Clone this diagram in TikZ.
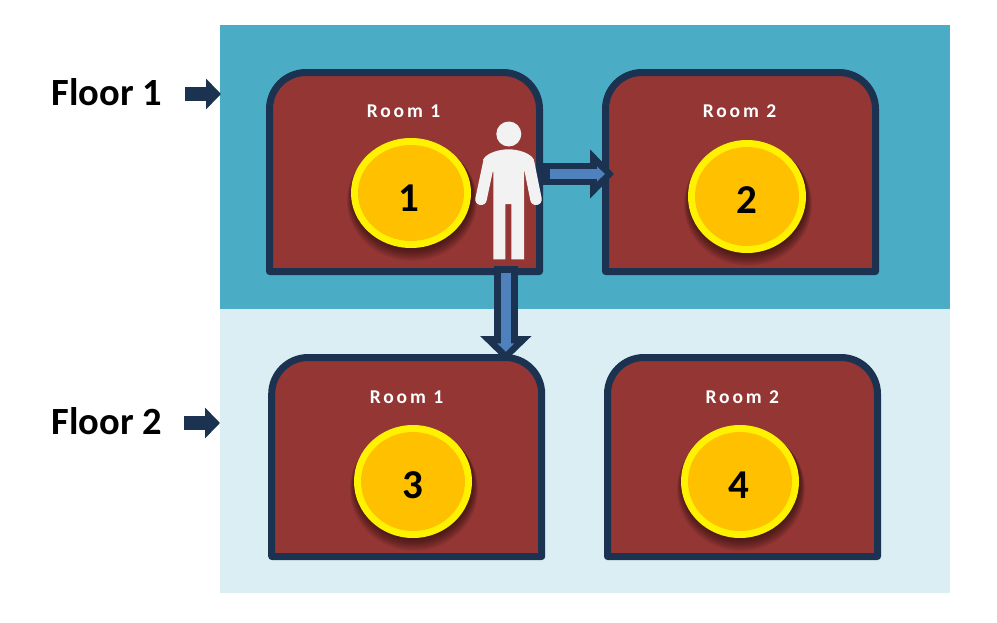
\documentclass[tikz,border=0pt]{standalone}
\usepackage{fontspec}
\setmainfont{Carlito}
\usetikzlibrary{arrows.meta,calc}
\definecolor{teal1}{HTML}{4BACC6}
\definecolor{light1}{HTML}{DBEEF4}
\definecolor{brick}{HTML}{943634}
\definecolor{navy1}{HTML}{1B3350}
\definecolor{blue1}{HTML}{4F81BD}
\definecolor{amber}{HTML}{FFC000}
\definecolor{pers}{HTML}{F2F2F2}
\tikzset{
  x=1pt,y=-1pt,
  floorbg/.style={minimum width=730pt,minimum height=284pt,inner sep=0pt,anchor=north west,outer sep=0pt},
  roombox/.style={minimum width=270pt,minimum height=199pt,inner sep=0pt,outer sep=0pt},
  roomline/.style={draw=navy1,fill=brick,line width=7pt,line join=round},
  roomlabel/.style={text=white,font=\fontsize{19.5}{22}\selectfont\bfseries\addfontfeatures{LetterSpace=15}},
  floorlabel/.style={text=black,font=\fontsize{38.5}{42}\selectfont\bfseries,inner sep=0pt},
  numlabel/.style={text=black,font=\fontsize{41}{44}\selectfont\bfseries,inner sep=0pt},
  bigarrow/.style={draw=navy1,line width=22pt,-{Triangle[length=24pt,width=48pt,sep=0pt]}},
  bigarrowin/.style={draw=blue1,line width=10.5pt,-{Triangle[length=8pt,width=14.5pt,sep=0pt]}},
  floorarrow/.style={draw=navy1,line width=14pt,-{Triangle[length=15pt,width=30pt,sep=0pt]}},
  personfill/.style={fill=pers,draw=none},
  personarm/.style={draw=pers,line width=11.5pt,line cap=round},
}
\newcommand{\roomdraw}[3]{%
  \node[roombox] (#1) at (#2,#3) {};
  \draw[roomline] (#1.south west) -- ([yshift=-36.5pt]#1.north west)
    arc[start angle=180,end angle=270,radius=36.5]
    -- ([xshift=-36.5pt]#1.north east)
    arc[start angle=270,end angle=360,radius=36.5]
    -- (#1.south east) -- cycle;
}
\newcommand{\discdraw}[5]{%
  \foreach \g in {10,9,...,0}{
    \fill[black,opacity=0.055] ({#2+1},{#3+1+0.7*\g}) ellipse[x radius={#4+0.5*\g},y radius={#5+0.5*\g}];
  }
  \fill[yellow] (#2,#3) ellipse[x radius=#4,y radius=#5];
  \fill[amber] (#2,#3) ellipse[x radius={#4-7},y radius={#5-7}];
  \coordinate (#1) at (#2,#3);
}
\begin{document}
\begin{tikzpicture}
\useasboundingbox (0,0) rectangle (997,622);
\fill[white] (0,0) rectangle (997,622);
\node[floorbg,fill=teal1] (floorA) at (220,25) {};
\node[floorbg,fill=light1] (floorB) at (220,309) {};

\roomdraw{r1}{404.5}{172}
\roomdraw{r2}{740.5}{172}
\roomdraw{r3}{406.7}{457}
\roomdraw{r4}{742.5}{457}

\node[roomlabel] (l1) at (403.5,111.5) {Room 1};
\node[roomlabel] (l2) at (739.5,111.5) {Room 2};
\node[roomlabel] (l3) at (406.5,397.5) {Room 1};
\node[roomlabel] (l4) at (742.3,397.5) {Room 2};

\discdraw{d1}{411}{193}{60}{55}
\discdraw{d2}{747}{196.5}{59}{56.5}
\discdraw{d3}{413}{481.5}{59}{56.5}
\discdraw{d4}{740}{481.5}{59}{56.5}
\node[numlabel] (n1) at (409,198.5) {1};
\node[numlabel] (n2) at (746.5,200.5) {2};
\node[numlabel] (n3) at (412.5,485) {3};
\node[numlabel] (n4) at (739,485) {4};

% person
\fill[personfill] (508.8,134) circle[radius=12.5];
\fill[personfill] (493.3,259.3) -- (505.3,259.3) -- (505.3,204) -- (511.3,204) -- (511.3,259.3) -- (524,259.3) -- (524,172) -- (534,160)
  .. controls (531,153) and (518,149.3) .. (508.5,149.3)
  .. controls (499,149.3) and (486,153) .. (483,160) -- (493.3,172) -- cycle;
\draw[personarm] (488.7,163) -- (481,199.3);
\draw[personarm] (528.7,163) -- (536,199.3);

% connectors
\draw[bigarrow] ([xshift=3pt,yshift=-2pt]r1.east) -- ([xshift=8.5pt,yshift=-2pt]r2.west);
\draw[bigarrowin] ([xshift=10.5pt,yshift=-2pt]r1.east) -- ([xshift=-0.5pt,yshift=-2pt]r2.west);
\draw[bigarrow,line width=23.7pt,-{Triangle[length=25pt,width=50pt,sep=0pt]}] ([xshift=99.1pt,yshift=5.5pt]r1.south -| r3.north) -- ([xshift=99.1pt,yshift=-3.5pt]r3.north);
\draw[bigarrowin,line width=9.7pt,-{Triangle[length=8.5pt,width=16.5pt,sep=0pt]}] ([xshift=99.1pt,yshift=-1.5pt]r1.south -| r3.north) -- ([xshift=99.1pt,yshift=5.7pt]r3.north);

% floor labels
\node[floorlabel,anchor=west] (f1) at (51.5,92.5) {Floor 1};
\node[floorlabel,anchor=west] (f2) at (51.5,421.5) {Floor 2};
\coordinate (f1tip) at (221,94);
\coordinate (f2tip) at (220,423);
\draw[floorarrow] ([xshift=23pt,yshift=-1.5pt]f1.east) -- (f1tip);
\draw[floorarrow] ([xshift=21.5pt,yshift=-1.5pt]f2.east) -- (f2tip);
\end{tikzpicture}
\end{document}
